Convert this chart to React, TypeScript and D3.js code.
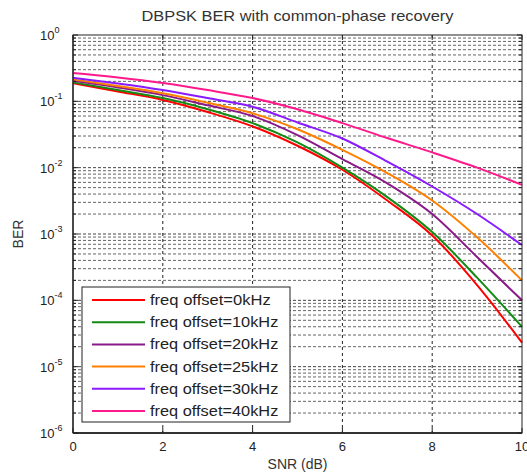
import React from "react";
import * as d3 from "d3";

// SNR sample points (dB)
const snrDb = [0, 1, 2, 3, 4, 5, 6, 7, 8, 9, 10];

// Simulated BER for each carrier frequency offset
const berOffset0 = [0.187, 0.141, 0.105, 0.069, 0.042, 0.0214, 0.0093, 0.0032, 9.5e-4, 1.7e-4, 2.3e-5];
const berOffset10 = [0.193, 0.148, 0.112, 0.076, 0.047, 0.024, 0.0100, 0.0036, 1.07e-3, 2.2e-4, 4.0e-5];
const berOffset20 = [0.204, 0.162, 0.124, 0.087, 0.060, 0.031, 0.0135, 0.0058, 2.0e-3, 4.5e-4, 1.0e-4];
const berOffset25 = [0.214, 0.170, 0.132, 0.095, 0.066, 0.038, 0.0186, 0.0083, 3.2e-3, 8.9e-4, 2.0e-4];
const berOffset30 = [0.227, 0.186, 0.148, 0.112, 0.083, 0.048, 0.0275, 0.0123, 5.2e-3, 2.0e-3, 6.8e-4];
const berOffset40 = [0.267, 0.229, 0.189, 0.148, 0.112, 0.076, 0.047, 0.028, 0.017, 0.010, 5.5e-3];

const seriesLabels = [
  "freq offset=0kHz",
  "freq offset=10kHz",
  "freq offset=20kHz",
  "freq offset=25kHz",
  "freq offset=30kHz",
  "freq offset=40kHz",
];
const seriesValues = [berOffset0, berOffset10, berOffset20, berOffset25, berOffset30, berOffset40];
const seriesColors = ["#ff0000", "#138a13", "#8a1a8a", "#ff8000", "#8a1aff", "#ff1a8c"];

const xTicks = [0, 2, 4, 6, 8, 10];
const yExponents = [0, -1, -2, -3, -4, -5, -6];

const W = 527;
const H = 472;
const M = { left: 73, right: 5, top: 35, bottom: 39 };

export default function App() {
  const x = d3.scaleLinear().domain([0, 10]).range([M.left, W - M.right]);
  const y = d3.scaleLog().domain([1e-6, 1]).range([H - M.bottom, M.top]);

  const line = d3
    .line<[number, number]>()
    .x((d) => x(d[0]))
    .y((d) => y(d[1]))
    .curve(d3.curveMonotoneX);

  // minor grid values: 2..9 times each decade
  const minor: number[] = [];
  for (let e = -6; e < 0; e++) {
    for (let k = 2; k <= 9; k++) minor.push(k * Math.pow(10, e));
  }

  const x0 = x(0);
  const x1 = x(10);
  const yTop = y(1);
  const yBot = y(1e-6);
  const font = "'Liberation Sans', Arial, sans-serif";

  const legX = 82;
  const legY = 287;
  const legW = 208;
  const legH = 135;
  const rowH = 22.2;

  return (
    <svg width={W} height={H} style={{ position: "absolute", left: 0, top: 0, background: "#fff" }}>
      <rect x={0} y={0} width={W} height={H} fill="#fff" />
      {/* horizontal grid */}
      {minor.map((v, i) => (
        <line key={"mg" + i} x1={x0} x2={x1} y1={y(v)} y2={y(v)} stroke="#666" strokeWidth={1} strokeDasharray="3,2" />
      ))}
      {yExponents.slice(1, -1).map((e) => (
        <line key={"Mg" + e} x1={x0} x2={x1} y1={y(Math.pow(10, e))} y2={y(Math.pow(10, e))} stroke="#444" strokeWidth={1} strokeDasharray="3,2" />
      ))}
      {/* vertical grid */}
      {xTicks.slice(1, -1).map((t) => (
        <line key={"vg" + t} x1={x(t)} x2={x(t)} y1={yTop} y2={yBot} stroke="#222" strokeWidth={1} strokeDasharray="3,3" />
      ))}

      {/* curves */}
      {seriesValues.map((vals, i) => (
        <path
          key={"s" + i}
          d={line(snrDb.map((s, j) => [s, vals[j]] as [number, number])) || ""}
          fill="none"
          stroke={seriesColors[i]}
          strokeWidth={2}
        />
      ))}

      {/* axes box */}
      <rect x={x0} y={yTop} width={x1 - x0} height={yBot - yTop} fill="none" stroke="#222" strokeWidth={1} />
      <line x1={x0} x2={x1} y1={yBot} y2={yBot} stroke="#333" strokeWidth={2} />
      <line x1={x0} x2={x0} y1={yTop} y2={yBot} stroke="#333" strokeWidth={1.5} />

      {/* tick marks */}
      {xTicks.map((t) => (
        <g key={"xt" + t}>
          <line x1={x(t)} x2={x(t)} y1={yBot} y2={yBot - 5} stroke="#222" />
          <line x1={x(t)} x2={x(t)} y1={yTop} y2={yTop + 5} stroke="#222" />
          <text x={x(t)} y={yBot + 18} textAnchor="middle" fontFamily={font} fontSize={13} fill="#222">
            {t}
          </text>
        </g>
      ))}
      {minor.map((v, i) => (
        <g key={"ymt" + i}>
          <line x1={x0} x2={x0 + 3} y1={y(v)} y2={y(v)} stroke="#222" />
          <line x1={x1} x2={x1 - 3} y1={y(v)} y2={y(v)} stroke="#222" />
        </g>
      ))}
      {yExponents.map((e) => {
        const yy = y(Math.pow(10, e));
        return (
          <g key={"yt" + e}>
            <line x1={x0} x2={x0 + 5} y1={yy} y2={yy} stroke="#222" />
            <line x1={x1} x2={x1 - 5} y1={yy} y2={yy} stroke="#222" />
            <text x={x0 - 33} y={yy + 5} fontFamily={font} fontSize={13} fill="#222">
              10
              <tspan dy={-7} fontSize={9}>
                {e}
              </tspan>
            </text>
          </g>
        );
      })}

      {/* legend */}
      <rect x={legX} y={legY} width={legW} height={legH} fill="#fff" stroke="#222" strokeWidth={1} />
      {seriesLabels.map((lab, i) => {
        const yy = legY + 13 + i * rowH;
        return (
          <g key={"lg" + i}>
            <line x1={92} x2={145} y1={yy} y2={yy} stroke={seriesColors[i]} strokeWidth={2} />
            <text
              x={150}
              y={yy + 5}
              fontFamily={font}
              fontSize={15}
              fill="#222"
              textLength={lab.length * 7.55}
              lengthAdjust="spacingAndGlyphs"
            >
              {lab}
            </text>
          </g>
        );
      })}

      {/* labels */}
      <text
        x={(x0 + x1) / 2}
        y={21}
        textAnchor="middle"
        fontFamily={font}
        fontSize={14.5}
        fill="#333"
        textLength={312}
        lengthAdjust="spacingAndGlyphs"
      >
        DBPSK BER with common-phase recovery
      </text>
      <text x={(x0 + x1) / 2} y={469} textAnchor="middle" fontFamily={font} fontSize={14} fill="#333">
        SNR (dB)
      </text>
      <text
        transform={`translate(23, ${(yTop + yBot) / 2}) rotate(-90)`}
        textAnchor="middle"
        fontFamily={font}
        fontSize={14}
        fill="#333"
      >
        BER
      </text>
    </svg>
  );
}
